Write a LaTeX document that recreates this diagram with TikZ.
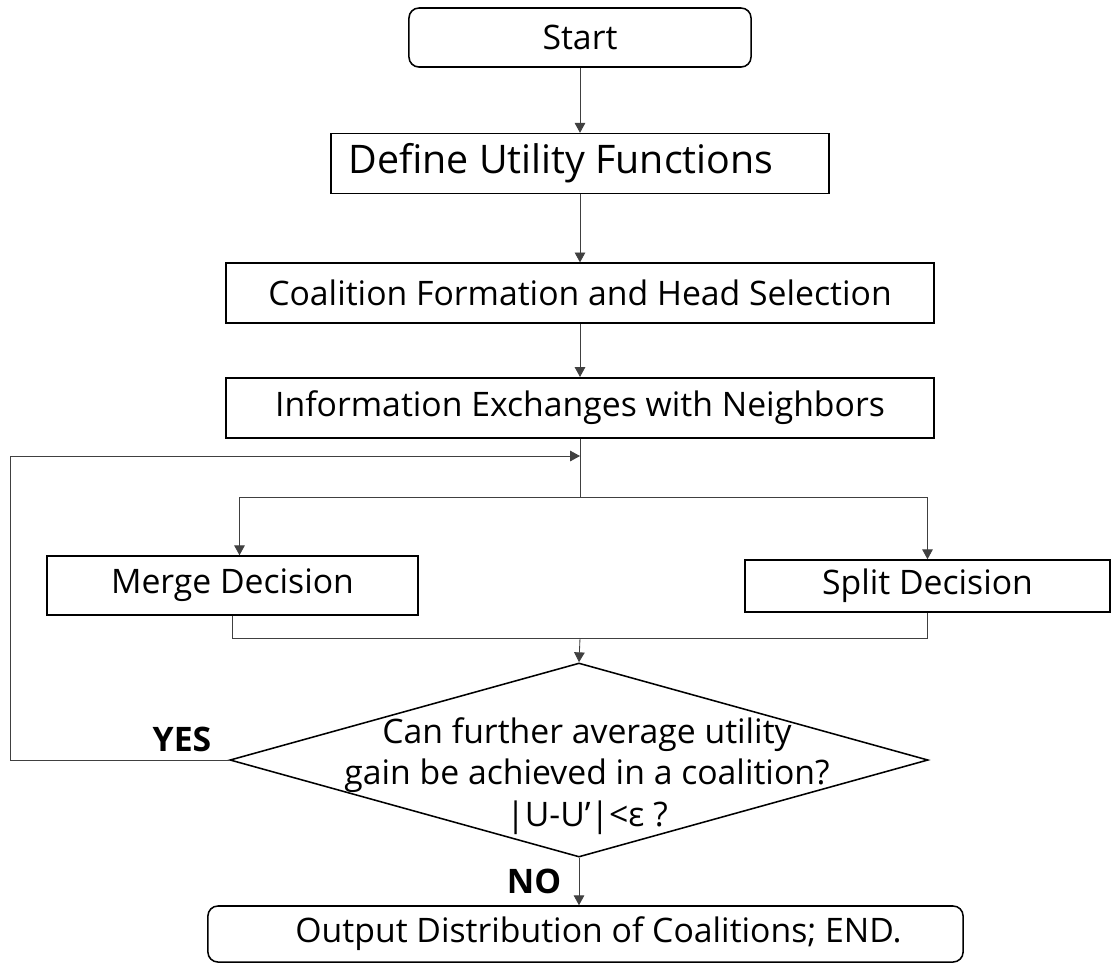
\documentclass[tikz,border=0pt]{standalone}
\usepackage{fontspec}
\setmainfont{Open Sans}
\usetikzlibrary{shapes.geometric, arrows.meta, positioning}

\tikzset{
	block/.style={draw, line width=1.1pt, minimum height=1.5cm, inner sep=0pt, font=\fontsize{24}{29}\selectfont},
	term/.style={block, rounded corners=0.25cm},
	decide/.style={diamond, draw, line width=1.1pt, aspect=3.6, minimum width=17.45cm, minimum height=4.85cm, inner sep=0pt},
	line/.style={draw=black!75, line width=0.6pt},
	arrow/.style={line, -{Triangle[length=7pt,width=7.5pt]}},
	answer/.style={font=\bfseries\fontsize{24}{29}\selectfont}
}

\begin{document}
\begin{tikzpicture}[x=0.025cm, y=-0.025cm]
	\useasboundingbox (0,0) rectangle (1111,963);
	\node[term, minimum width=8.55cm, minimum height=1.475cm] (start) at (580,37.5) {Start};
	\node[block, below=1.625cm of start, minimum width=12.45cm, font=\fontsize{28}{33}\selectfont] (define) {Define Utility Functions\hspace*{0.95cm}};
	\node[block, below=1.7cm of define, minimum width=17.7cm] (coalition) {Coalition Formation and Head Selection};
	\node[block, below=1.325cm of coalition, minimum width=17.7cm] (info) {Information Exchanges with Neighbors};
	\node[block, minimum width=9.275cm, minimum height=1.475cm] (merge) at (232.5,585.5) {Merge Decision};
	\node[block, minimum width=9.125cm, minimum height=1.3cm] (split) at (927.5,586) {Split Decision};
	\node[decide] (check) at (579,760) {};
	\node[align=center, font=\fontsize{24}{29.5}\selectfont] (checktext) at (587,776) {Can further average utility\\gain be achieved in a coalition?\\|U-U’|<ε ?};
	\node[term, minimum width=18.875cm, minimum height=1.4cm] (output) at (585.5,934) {\hspace*{0.65cm}Output Distribution of Coalitions; END.};
	\node[answer] (yes) at (182,739) {YES};
	\node[answer] (no) at (534,881) {NO};
	\coordinate (loopin) at (580,456);
	\coordinate (back) at (10,456);
	\coordinate (fork) at (580,497);
	\coordinate (collect) at (580,638);
	\foreach \from/\to in {start/define,define/coalition,coalition/info}
		\draw[arrow] (\from) -- (\to);
	\draw[line] (info.south) -- (fork);
	\draw[arrow] (fork) -| ([xshift=0.175cm]merge.north);
	\draw[arrow] (fork) -| (split.north);
	\draw[line] (merge.south) |- (collect);
	\draw[line] (split.south) |- (collect);
	\draw[arrow] (collect) -- (check.north);
	\draw[arrow] (check.west) -| (back) -- (loopin);
	\draw[arrow] (check.south) -- (check.south |- output.north);
\end{tikzpicture}
\end{document}
